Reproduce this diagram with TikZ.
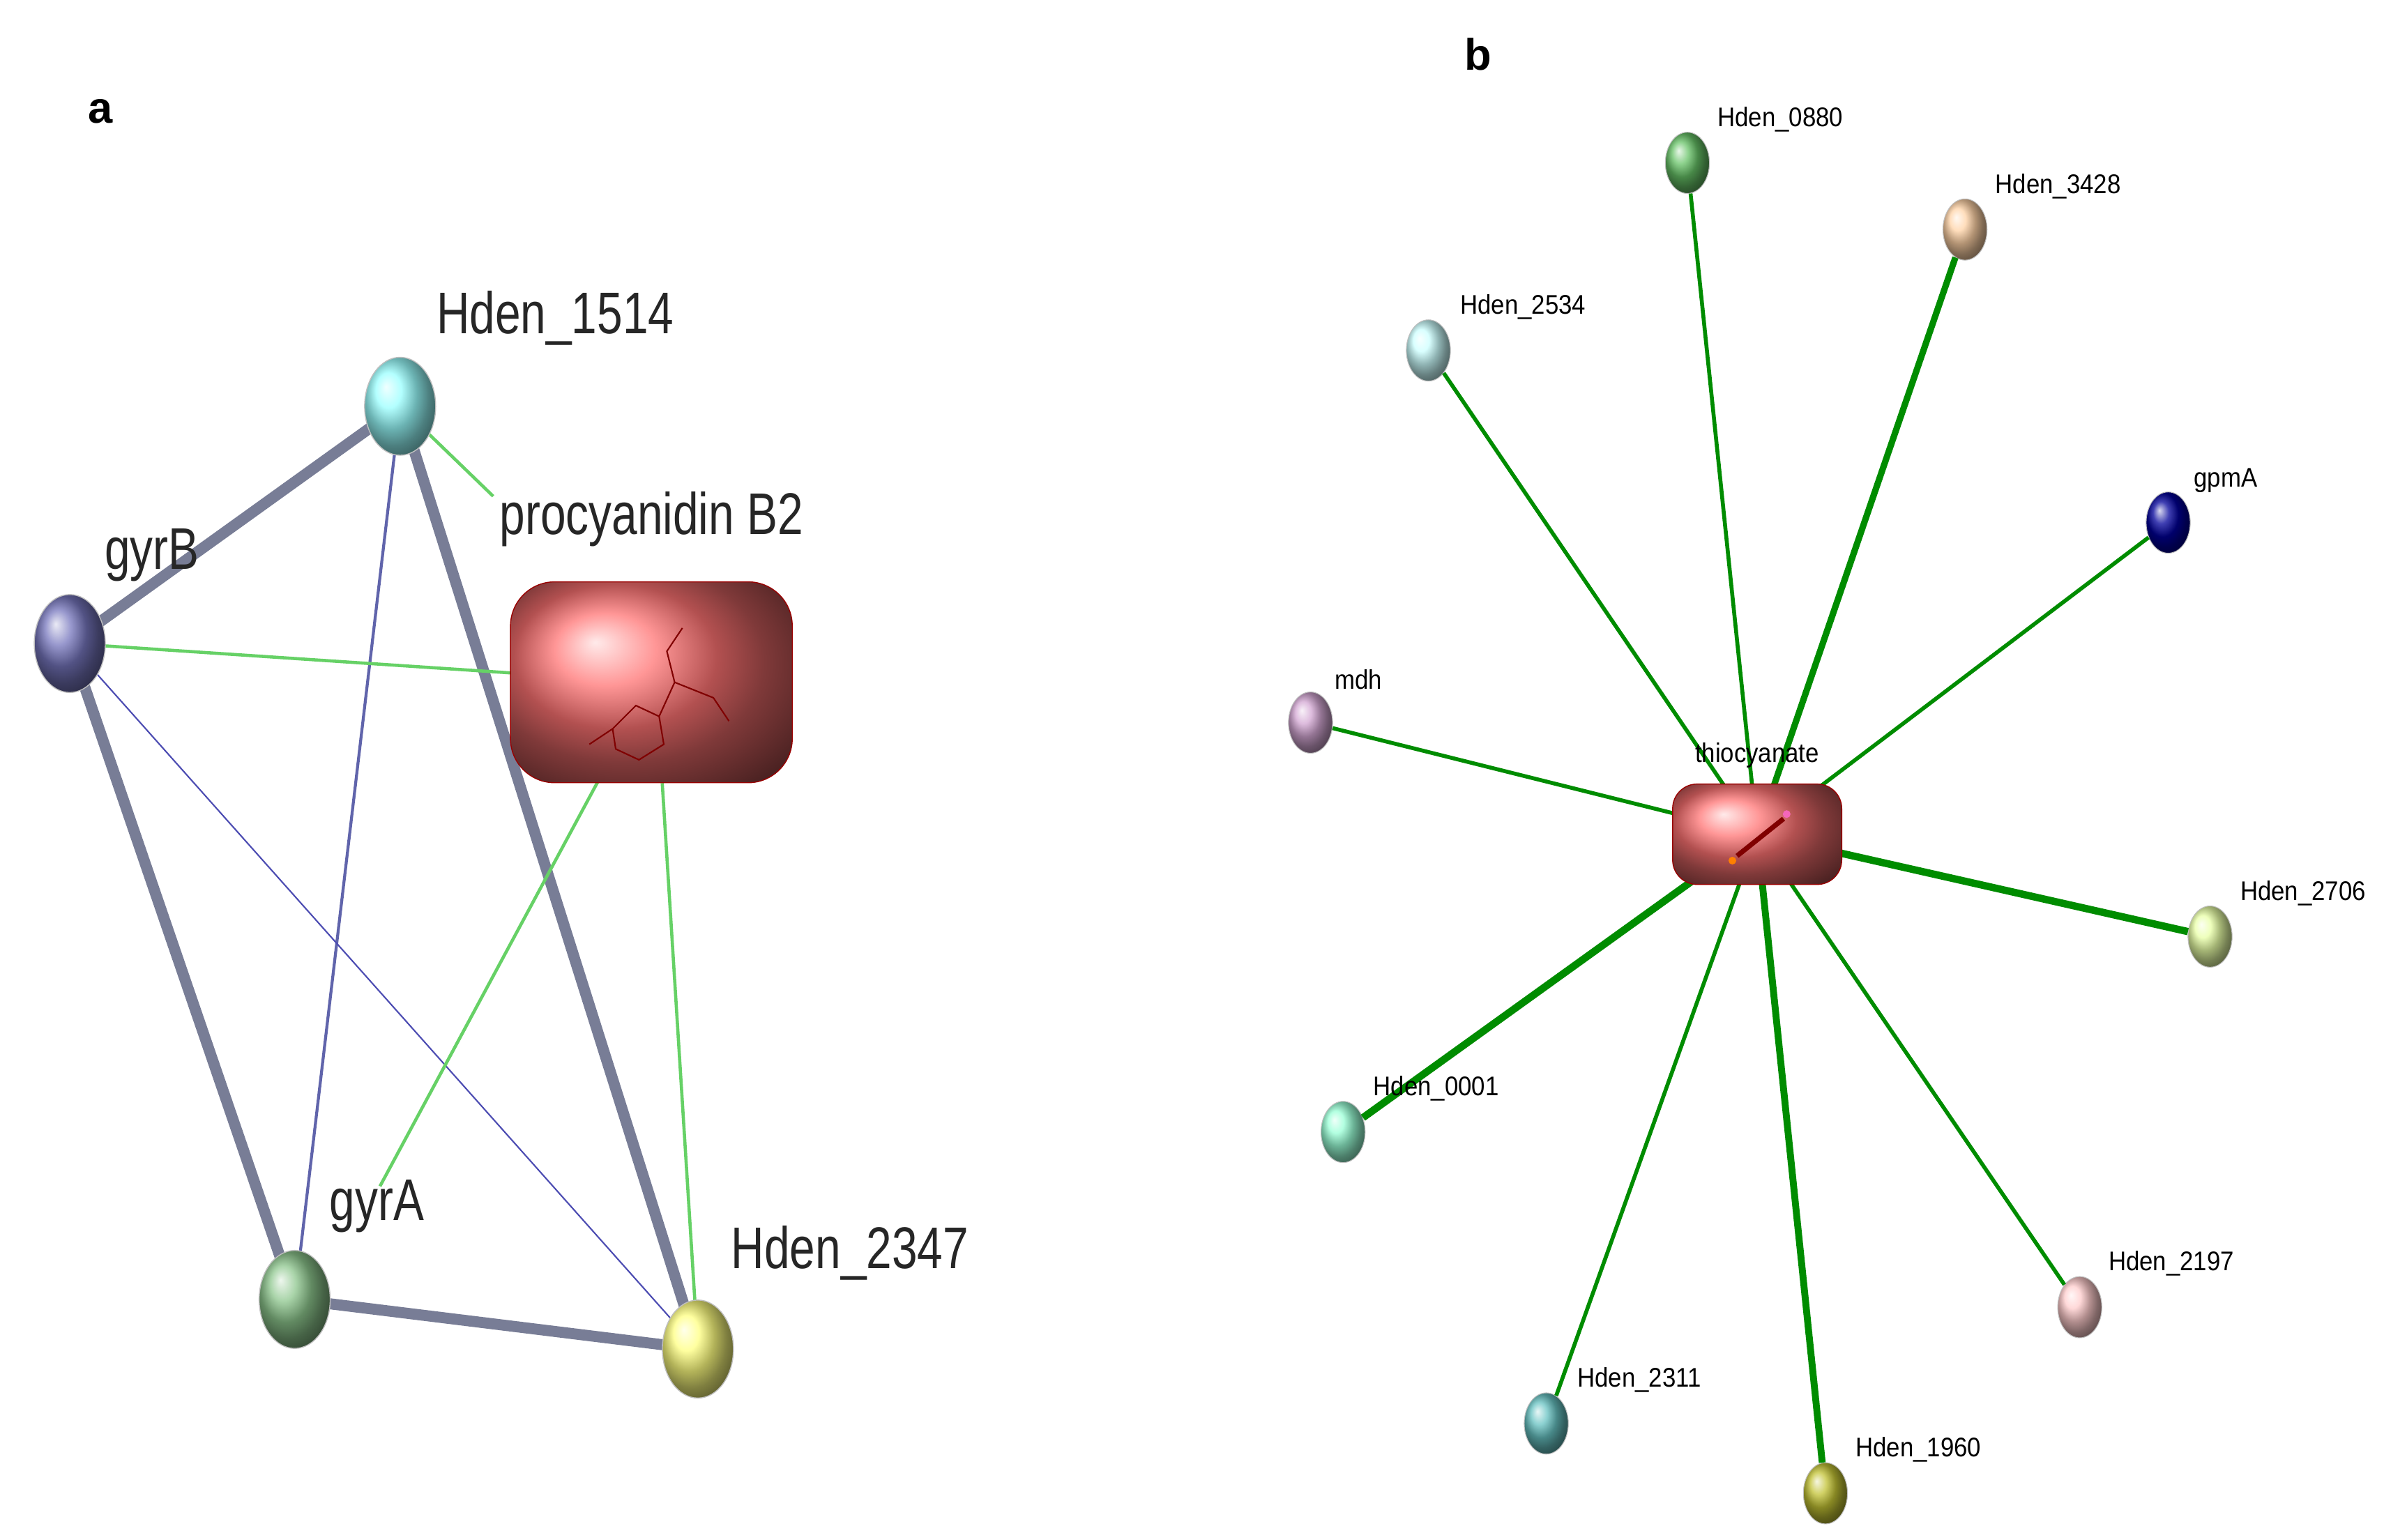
\documentclass[tikz,border=0pt]{standalone}
\usepackage{fontspec}
\setmainfont{Liberation Sans}
\newfontfamily\narrowf{Liberation Sans}[FakeStretch=0.78]
\newfontfamily\narrowb{Liberation Sans}[FakeStretch=0.9]
\usetikzlibrary{shapes.geometric}
\definecolor{edgegray}{RGB}{120,125,150}
\begin{document}
\begin{tikzpicture}[x=0.02224cm,y=-0.02224cm,
  sa/.style={ellipse,minimum width=29pt,minimum height=40pt,inner sep=0,shading=ball,ball color=#1,draw=black!25,line width=0.4pt},
  sb/.style={ellipse,minimum width=18pt,minimum height=25pt,inner sep=0,shading=ball,ball color=#1,draw=black!25,line width=0.3pt},
  la/.style={font=\narrowf\fontsize{24}{24}\selectfont,text=black!85},
  lb/.style={font=\narrowb\fontsize{11}{11}\selectfont,text=black},
  tg/.style={draw=edgegray,line width=4.5pt},
  thg/.style={draw=edgegray!80!blue,line width=1.2pt},
  ga/.style={draw=green!70!black!60,line width=1.3pt},
  gb/.style={draw=green!55!black,line width=#1},
  gb/.default=1.6pt,
  rbox/.style={rectangle,rounded corners=#1,shading=ball,ball color=red!55,draw=red!60!black},
  panel/.style={font=\bfseries\fontsize{18}{18}\selectfont\rmfamily}]
\useasboundingbox (0,0) rectangle (1552,993);
\fill[white] (0,0) rectangle (1552,993);
\node[panel] (pa) at (65,72) {a};
\node[panel] (pb) at (953,35) {b};
% panel a
\coordinate (h1514) at (258,262);
\coordinate (gyrB) at (45,415);
\coordinate (gyrA) at (190,838);
\coordinate (h2347) at (450,870);
\coordinate (pro) at (420,440);
\coordinate (pe1) at (318,320);
\coordinate (pe2) at (245,765);
\coordinate (pe3) at (427,505);
\draw[tg] (gyrB) -- (h1514);
\draw[tg] (h1514) -- (h2347);
\draw[tg] (gyrB) -- (gyrA);
\draw[tg] (gyrA) -- (h2347);
\draw[thg] (h1514) -- (gyrA);
\draw[draw=blue!40!gray,line width=0.6pt] (gyrB) -- (h2347);
\draw[ga] (h1514) -- (pe1);
\draw[ga] (gyrB) -- (pro);
\draw[ga] (pro) -- (pe2);
\draw[ga] (pe3) -- (h2347);
\node[sa=cyan!40] (n1514) at (h1514) {};
\node[sa=blue!35!gray!80] (ngyrB) at (gyrB) {};
\node[sa=green!50!black!45] (ngyrA) at (gyrA) {};
\node[sa=yellow!50] (n2347) at (h2347) {};
\node[rbox=18pt,minimum width=115pt,minimum height=82pt] (npro) at (pro) {};
\draw[red!50!black,line width=0.6pt] (395,470) -- (410,455) -- (425,462) -- (428,480) -- (412,490) -- (397,483) -- cycle
  (425,462) -- (435,440) -- (430,420) -- (440,405) (435,440) -- (460,450) -- (470,465) (380,480) -- (395,470);
\node[la] (l1514) at (358,205) {Hden\_1514};
\node[la] (lgyrB) at (98,358) {gyrB};
\node[la] (lpro) at (420,335) {procyanidin B2};
\node[la] (lgyrA) at (243,778) {gyrA};
\node[la] (l2347) at (548,808) {Hden\_2347};
% panel b
\coordinate (thio) at (1133,538);
\node[sb=green!60!black!60] (b0880) at (1088,105) {};
\node[sb=orange!35] (b3428) at (1267,148) {};
\node[sb=cyan!20] (b2534) at (921,226) {};
\node[sb=blue!60!black] (bgpmA) at (1398,337) {};
\node[sb=violet!35] (bmdh) at (845,466) {};
\node[sb=lime!35] (b2706) at (1425,604) {};
\node[sb=green!40!cyan!40] (b0001) at (866,730) {};
\node[sb=red!20] (b2197) at (1341,843) {};
\node[sb=cyan!60!black!60] (b2311) at (997,918) {};
\node[sb=yellow!70!black!80] (b1960) at (1177,963) {};
\draw[gb] (thio) -- (b0880);
\draw[gb=2.6pt] (thio) -- (b3428);
\draw[gb] (thio) -- (b2534);
\draw[gb] (thio) -- (bgpmA);
\draw[gb] (thio) -- (bmdh);
\draw[gb=3pt] (thio) -- (b2706);
\draw[gb=3pt] (thio) -- (b0001);
\draw[gb] (thio) -- (b2197);
\draw[gb] (thio) -- (b2311);
\draw[gb=2.8pt] (thio) -- (b1960);
\node[rbox=10pt,minimum width=69pt,minimum height=41pt] (nthio) at (thio) {};
\draw[red!50!black,line width=2pt] (1120,552) -- (1150,528);
\fill[orange] (1117,555) circle (2.5);
\fill[magenta!60] (1152,525) circle (2.5);
\node[lb] (lthio) at (1133,487) {thiocyanate};
\node[lb] (l0880) at (1148,77) {Hden\_0880};
\node[lb] (l3428) at (1327,120) {Hden\_3428};
\node[lb] (l2534) at (982,198) {Hden\_2534};
\node[lb] (lgpmA) at (1435,310) {gpmA};
\node[lb] (lmdh) at (876,438) {mdh};
\node[lb] (l2706) at (1485,576) {Hden\_2706};
\node[lb] (l0001) at (926,702) {Hden\_0001};
\node[lb] (l2197) at (1400,815) {Hden\_2197};
\node[lb] (l2311) at (1057,890) {Hden\_2311};
\node[lb] (l1960) at (1237,935) {Hden\_1960};
\end{tikzpicture}
\end{document}
